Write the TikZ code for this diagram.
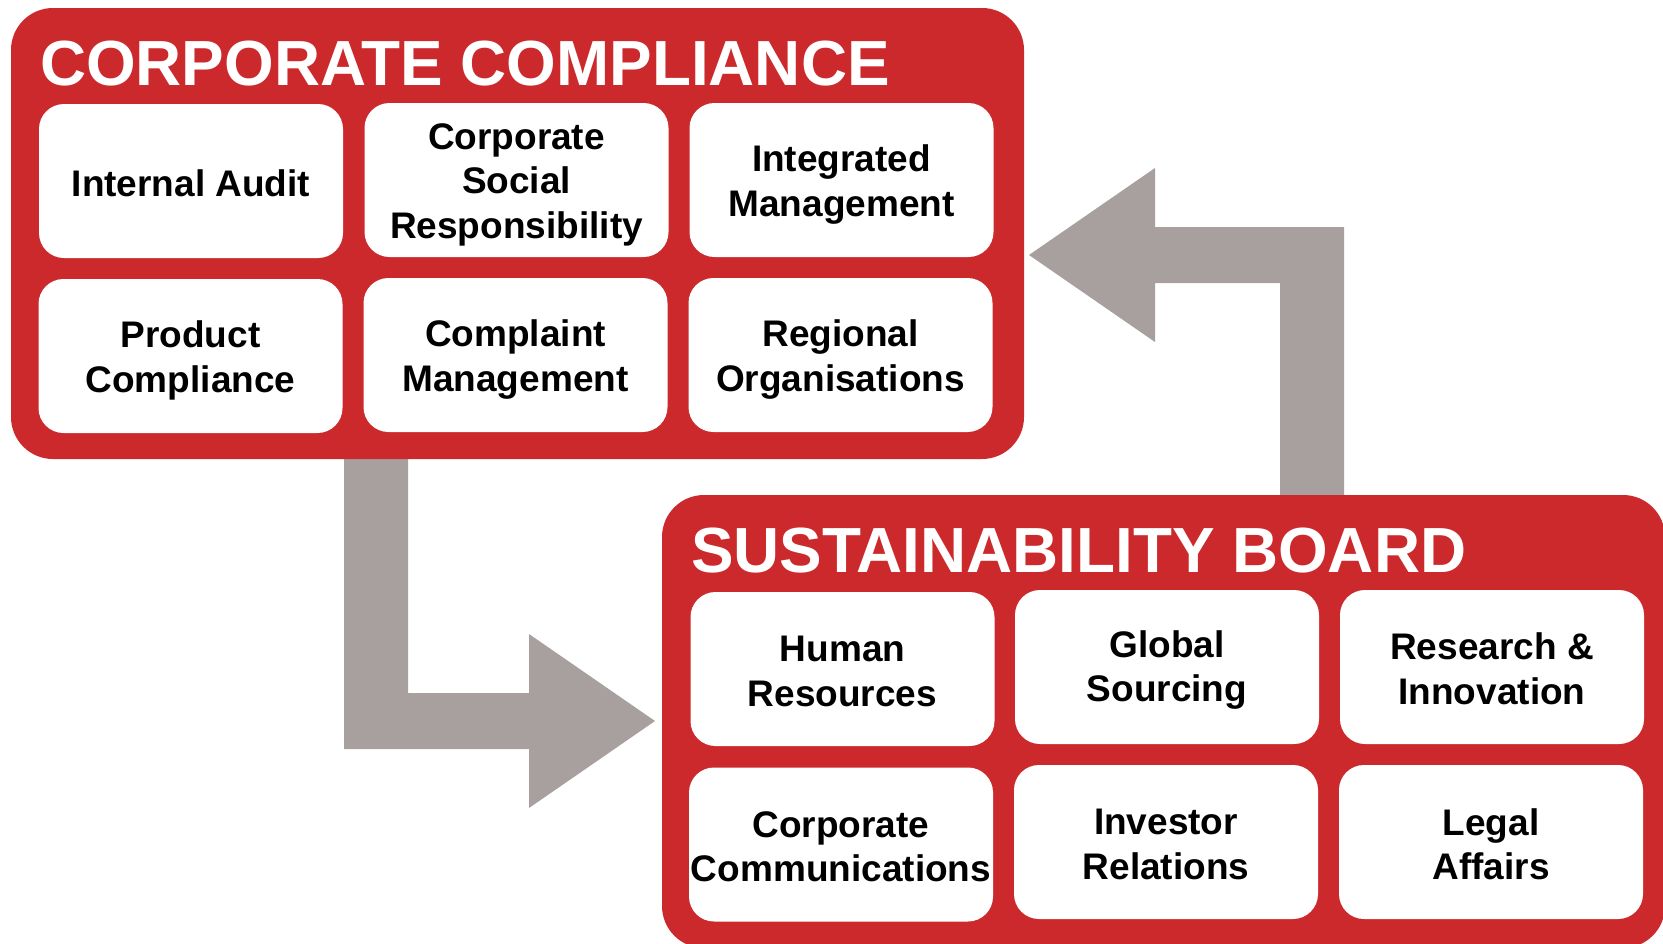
\documentclass[tikz,border=0pt]{standalone}
\usepackage{fontspec}
\setmainfont{Liberation Sans}
\definecolor{ccred}{RGB}{204,41,44}
\definecolor{arrowgrey}{RGB}{167,160,159}
\begin{document}
\begin{tikzpicture}[x=1pt,y=-1pt,
  redbox/.style={fill=ccred, draw=none, rounded corners=42pt, inner sep=0pt},
  unitbox/.style={fill=white, draw=none, rounded corners=25pt, minimum width=304pt, minimum height=154pt, inner sep=0pt},
  unittext/.style={inner sep=0pt, align=center, text=black, font=\fontsize{37}{44.5}\selectfont\bfseries},
  titletext/.style={anchor=base west, inner sep=0pt, text=white, font=\fontsize{63.8}{70}\selectfont\bfseries},
  blockarrow/.style={fill=arrowgrey, draw=none}]
\useasboundingbox (0,0) rectangle (1663,943);
\clip (0,0) rectangle (1663,943);

% block arrows
\fill[blockarrow] (1344,500) -- (1344,227) -- (1155,227) -- (1155,168) -- (1029,255) -- (1155,342) -- (1155,283) -- (1280,283) -- (1280,500) -- cycle;
\fill[blockarrow] (344,450) -- (344,749) -- (529,749) -- (529,808) -- (655,721) -- (529,634) -- (529,693) -- (408,693) -- (408,450) -- cycle;

% corporate compliance group
\node[redbox, minimum width=1013pt, minimum height=451pt] (cc) at (517.5,233.5) {};
\node[titletext] (cctitle) at (40,85) {CORPORATE COMPLIANCE};
\node[unitbox] (ia)  at (191,181)   {};
\node[unitbox] (csr) at (516.5,180) {};
\node[unitbox] (im)  at (841.5,180) {};
\node[unitbox] (pc)  at (190.5,356) {};
\node[unitbox] (cm)  at (515.5,355) {};
\node[unitbox] (ro)  at (840.5,355) {};
\node[unittext, yshift=-2pt]   (iat)  at (ia)  {Internal Audit};
\node[unittext, yshift=-4.5pt] (csrt) at (csr) {Corporate\\Social\\Responsibility};
\node[unittext, yshift=-4.5pt] (imt)  at (im)  {Integrated\\Management};
\node[unittext, yshift=-4.5pt] (pct)  at (pc)  {Product\\Compliance};
\node[unittext, yshift=-4.5pt] (cmt)  at (cm)  {Complaint\\Management};
\node[unittext, yshift=-4.5pt] (rot)  at (ro)  {Regional\\Organisations};

% sustainability board group
\node[redbox, minimum width=1003pt, minimum height=453pt] (sb) at (1163.5,721.5) {};
\node[titletext] (sbtitle) at (691,572) {SUSTAINABILITY BOARD};
\node[unitbox] (hr)  at (842.5,669) {};
\node[unitbox] (gs)  at (1167,667)  {};
\node[unitbox] (ri)  at (1492,667)  {};
\node[unitbox] (cco) at (841,844.5) {};
\node[unitbox] (ir)  at (1166,842)  {};
\node[unitbox] (la)  at (1491,842)  {};
\node[unittext, yshift=-2.5pt] (hrt)  at (hr)  {Human\\Resources};
\node[unittext, yshift=-3pt]   (gst)  at (gs)  {Global\\Sourcing};
\node[unittext, yshift=-2pt]   (rit)  at (ri)  {Research \&\\Innovation};
\node[unittext, yshift=-2.5pt] (ccot) at (cco) {Corporate\\Communications};
\node[unittext, yshift=-2.5pt] (irt)  at (ir)  {Investor\\Relations};
\node[unittext, yshift=-2.5pt] (lat)  at (la)  {Legal\\Affairs};
\end{tikzpicture}
\end{document}
